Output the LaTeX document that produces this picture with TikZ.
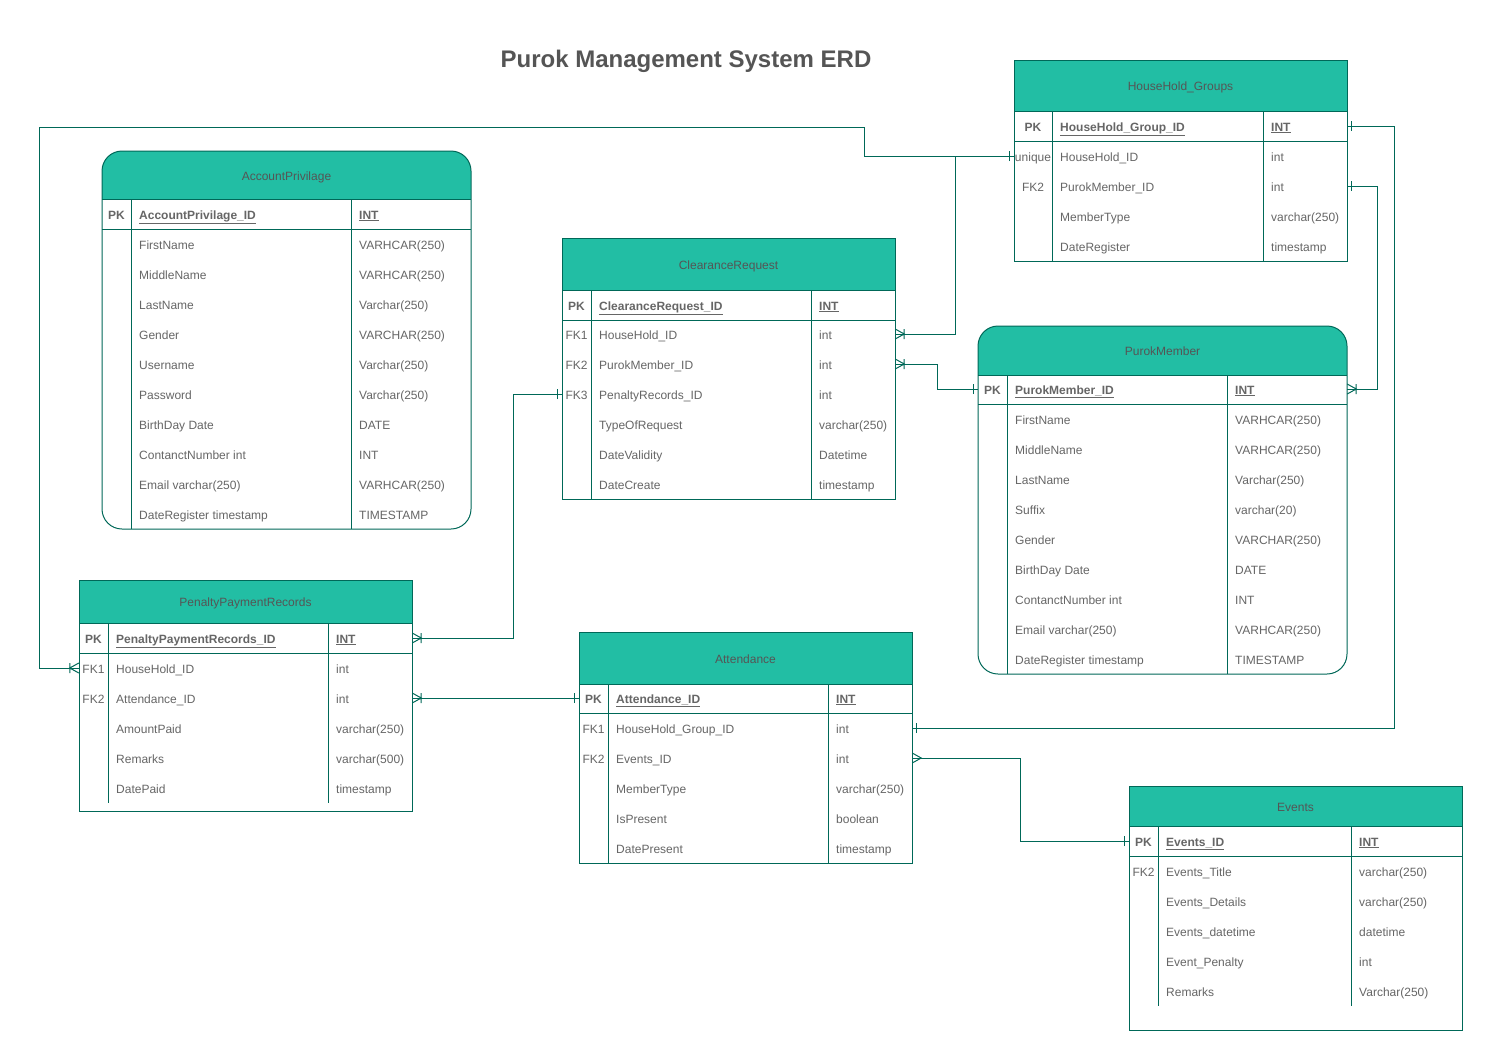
\documentclass[tikz,border=0pt]{standalone}
\usepackage{fontspec}
\setmainfont{Liberation Sans}
\definecolor{erfill}{RGB}{34,190,164}
\definecolor{erline}{RGB}{0,104,88}
\definecolor{ertext}{RGB}{102,102,102}
\definecolor{ertitle}{RGB}{85,85,85}
\newcommand{\erfs}{\fontsize{12}{14}\selectfont}
\newcommand{\tframe}[2]{%
  \begin{scope}
    \clip[rounded corners=\rr] (\xa,\ya) rectangle (\xb,\yb);
    \fill[erfill] (\xa,\ya) rectangle (\xb,\hb);
  \end{scope}
  \draw[tline, rounded corners=\rr] (\xa,\ya) rectangle (\xb,\yb);
  \draw[tline] (\xa,\hb) -- (\xb,\hb) (\xa,\pb) -- (\xb,\pb);
  \draw[tline] (\kd,\hb) -- (\kd,\de) (\td,\hb) -- (\td,\de);
  \pgfmathsetmacro\cx{(\xa+\xb)/2}%
  \pgfmathsetmacro\cy{(\ya+\hb)/2}%
  \pgfmathsetmacro\tw{\xb-\xa}%
  \pgfmathsetmacro\kx{(\xa+\kd)/2}%
  \pgfmathsetmacro\nx{\kd+8}%
  \pgfmathsetmacro\tx{\td+8}%
  \node[hdrtxt] (#1) at (\cx,\cy) {#2};}
\newcommand{\erow}[5]{%
  \node[rowbox, minimum width=\tw pt] (#1) at (\cx,#2) {};
  \node[keytxt] (#1k) at (\kx,#2) {#3};
  \node[fldtxt] (#1f) at (\nx,#2) {#4};
  \node[fldtxt] (#1t) at (\tx,#2) {#5};}
\newcommand{\pkrow}[4]{%
  \node[rowbox, minimum width=\tw pt] (#1) at (\cx,#2) {};
  \node[keybold] (#1k) at (\kx,#2) {PK};
  \node[fldbold] (#1f) at (\nx,#2) {\underline{#3}};
  \node[fldbold] (#1t) at (\tx,#2) {\underline{#4}};}
\begin{document}
\begin{tikzpicture}[x=1pt,y=-1pt,
  tline/.style={draw=erline, line width=1pt},
  conn/.style={draw=erline, line width=1pt},
  hdrtxt/.style={font=\erfs, text=ertitle, inner sep=0pt, text height=8.6pt, text depth=0pt, yshift=-0.8pt},
  keytxt/.style={font=\erfs, text=ertext, inner sep=0pt, text height=8.6pt, text depth=0pt, yshift=-0.8pt},
  keybold/.style={keytxt, font=\erfs\bfseries},
  fldtxt/.style={keytxt, anchor=west},
  fldbold/.style={fldtxt, font=\erfs\bfseries},
  rowbox/.style={draw=none, inner sep=0pt, minimum height=30pt},
  erone/.pic={\draw[conn] (4.5,-5) -- (4.5,5);},
  ercrow/.pic={\draw[conn] (0,-5) -- (9,0) -- (0,5);},
  ercrowbar/.pic={\draw[conn] (0,-5) -- (9,0) -- (0,5) (9,-5) -- (9,5);},
]
\useasboundingbox (0,0) rectangle (1493,1061);
\fill[white] (0,0) rectangle (1493,1061);

\node[font=\fontsize{24}{28}\selectfont\bfseries, text=ertitle] (title) at (686,61) {Purok Management System ERD};

% AccountPrivilage
\def\xa{102}\def\ya{151}\def\xb{471}\def\yb{529}\def\hb{199}\def\pb{229}\def\kd{131}\def\td{351}\def\de{529}\def\rr{20pt}
\tframe{ap}{AccountPrivilage}
\pkrow{apPK}{214}{AccountPrivilage\_ID}{INT}
\erow{ap1}{244}{}{FirstName}{VARHCAR(250)}
\erow{ap2}{274}{}{MiddleName}{VARHCAR(250)}
\erow{ap3}{304}{}{LastName}{Varchar(250)}
\erow{ap4}{334}{}{Gender}{VARCHAR(250)}
\erow{ap5}{364}{}{Username}{Varchar(250)}
\erow{ap6}{394}{}{Password}{Varchar(250)}
\erow{ap7}{424}{}{BirthDay Date}{DATE}
\erow{ap8}{454}{}{ContanctNumber int}{INT}
\erow{ap9}{484}{}{Email varchar(250)}{VARHCAR(250)}
\erow{ap10}{514}{}{DateRegister timestamp}{TIMESTAMP}

% ClearanceRequest
\def\xa{562}\def\ya{238}\def\xb{895}\def\yb{499}\def\hb{290}\def\pb{320}\def\kd{591}\def\td{811}\def\de{499}\def\rr{0pt}
\tframe{cr}{ClearanceRequest}
\pkrow{crPK}{305}{ClearanceRequest\_ID}{INT}
\erow{crFK1}{334}{FK1}{HouseHold\_ID}{int}
\erow{crFK2}{364}{FK2}{PurokMember\_ID}{int}
\erow{crFK3}{394}{FK3}{PenaltyRecords\_ID}{int}
\erow{cr4}{424}{}{TypeOfRequest}{varchar(250)}
\erow{cr5}{454}{}{DateValidity}{Datetime}
\erow{cr6}{484}{}{DateCreate}{timestamp}

% HouseHold_Groups
\def\xa{1014}\def\ya{60}\def\xb{1347}\def\yb{261}\def\hb{111}\def\pb{141}\def\kd{1052}\def\td{1263}\def\de{261}\def\rr{0pt}
\tframe{hg}{HouseHold\_Groups}
\pkrow{hgPK}{126}{HouseHold\_Group\_ID}{INT}
\erow{hgU}{156}{unique}{HouseHold\_ID}{int}
\erow{hgFK2}{186}{FK2}{PurokMember\_ID}{int}
\erow{hg3}{216}{}{MemberType}{varchar(250)}
\erow{hg4}{246}{}{DateRegister}{timestamp}

% PurokMember
\def\xa{978}\def\ya{326}\def\xb{1347}\def\yb{674}\def\hb{375}\def\pb{404}\def\kd{1007}\def\td{1227}\def\de{674}\def\rr{20pt}
\tframe{pm}{PurokMember}
\pkrow{pmPK}{389}{PurokMember\_ID}{INT}
\erow{pm1}{419}{}{FirstName}{VARHCAR(250)}
\erow{pm2}{449}{}{MiddleName}{VARHCAR(250)}
\erow{pm3}{479}{}{LastName}{Varchar(250)}
\erow{pm4}{509}{}{Suffix}{varchar(20)}
\erow{pm5}{539}{}{Gender}{VARCHAR(250)}
\erow{pm6}{569}{}{BirthDay Date}{DATE}
\erow{pm7}{599}{}{ContanctNumber int}{INT}
\erow{pm8}{629}{}{Email varchar(250)}{VARHCAR(250)}
\erow{pm9}{659}{}{DateRegister timestamp}{TIMESTAMP}

% PenaltyPaymentRecords
\def\xa{79}\def\ya{580}\def\xb{412}\def\yb{811}\def\hb{623}\def\pb{653}\def\kd{108}\def\td{328}\def\de{803}\def\rr{0pt}
\tframe{pp}{PenaltyPaymentRecords}
\pkrow{ppPK}{638}{PenaltyPaymentRecords\_ID}{INT}
\erow{ppFK1}{668}{FK1}{HouseHold\_ID}{int}
\erow{ppFK2}{698}{FK2}{Attendance\_ID}{int}
\erow{pp3}{728}{}{AmountPaid}{varchar(250)}
\erow{pp4}{758}{}{Remarks}{varchar(500)}
\erow{pp5}{788}{}{DatePaid}{timestamp}

% Attendance
\def\xa{579}\def\ya{632}\def\xb{912}\def\yb{863}\def\hb{684}\def\pb{713}\def\kd{608}\def\td{828}\def\de{863}\def\rr{0pt}
\tframe{at}{Attendance}
\pkrow{atPK}{698}{Attendance\_ID}{INT}
\erow{atFK1}{728}{FK1}{HouseHold\_Group\_ID}{int}
\erow{atFK2}{758}{FK2}{Events\_ID}{int}
\erow{at3}{788}{}{MemberType}{varchar(250)}
\erow{at4}{818}{}{IsPresent}{boolean}
\erow{at5}{848}{}{DatePresent}{timestamp}

% Events
\def\xa{1129}\def\ya{786}\def\xb{1462}\def\yb{1030}\def\hb{826}\def\pb{856}\def\kd{1158}\def\td{1351}\def\de{1006}\def\rr{0pt}
\tframe{ev}{Events}
\pkrow{evPK}{841}{Events\_ID}{INT}
\erow{evFK2}{871}{FK2}{Events\_Title}{varchar(250)}
\erow{ev2}{901}{}{Events\_Details}{varchar(250)}
\erow{ev3}{931}{}{Events\_datetime}{datetime}
\erow{ev4}{961}{}{Event\_Penalty}{int}
\erow{ev5}{991}{}{Remarks}{Varchar(250)}

% connectors
\draw[conn] (hgU.west) -| (864,127) -- (39,127) |- (ppFK1.west);
\draw[conn] (hgU.west) -- (955,156) |- (crFK1.east);
\draw[conn] (crFK2.east) -- (937,364) |- (pmPK.west);
\draw[conn] (hgFK2.east) -- (1377,186) |- (pmPK.east);
\draw[conn] (hgPK.east) -- ++(47,0) |- (atFK1.east);
\draw[conn] (atFK2.east) -- (1020,758) |- (evPK.west);
\draw[conn] (crFK3.west) -- (513,394) |- (ppPK.east);
\draw[conn] (ppFK2.east) -- (atPK.west);

% end marks
\pic[rotate=180] at (hgU.west) {erone};
\pic[rotate=180] at (ppFK1.west) {ercrowbar};
\pic at (crFK1.east) {ercrowbar};
\pic at (crFK2.east) {ercrowbar};
\pic[rotate=180] at (pmPK.west) {erone};
\pic at (hgFK2.east) {erone};
\pic at (pmPK.east) {ercrowbar};
\pic at (hgPK.east) {erone};
\pic at (atFK1.east) {erone};
\pic at (atFK2.east) {ercrow};
\pic[rotate=180] at (evPK.west) {erone};
\pic[rotate=180] at (crFK3.west) {erone};
\pic at (ppPK.east) {ercrowbar};
\pic at (ppFK2.east) {ercrowbar};
\pic[rotate=180] at (atPK.west) {erone};
\end{tikzpicture}
\end{document}
